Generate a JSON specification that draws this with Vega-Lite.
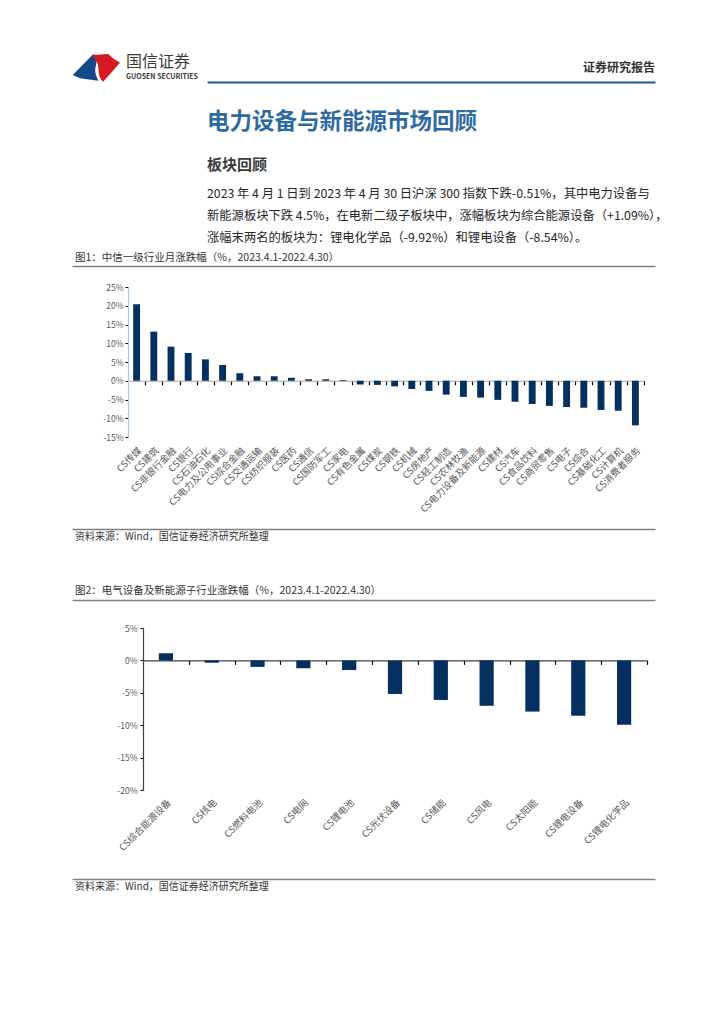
{
  "$schema": "https://vega.github.io/schema/vega-lite/v6.json",
  "background": "white",
  "padding": {"left": 72, "top": 53, "right": 0, "bottom": 0},
  "config": {
    "font": "Noto Sans CJK SC",
    "view": {"stroke": null},
    "axis": {"grid": false},
    "axisY": {"labelOverlap": false},
    "title": {"frame": "group", "anchor": "start"}
  },
  "datasets": {
    "industry": [
      {"name": "CS传媒", "value": 20.4},
      {"name": "CS建筑", "value": 13.1},
      {"name": "CS非银行金融", "value": 9.1},
      {"name": "CS银行", "value": 7.4},
      {"name": "CS石油石化", "value": 5.7},
      {"name": "CS电力及公用事业", "value": 4.2},
      {"name": "CS综合金融", "value": 2.0},
      {"name": "CS交通运输", "value": 1.2},
      {"name": "CS纺织服装", "value": 1.2},
      {"name": "CS医药", "value": 0.8},
      {"name": "CS通信", "value": 0.4},
      {"name": "CS国防军工", "value": 0.4},
      {"name": "CS家电", "value": 0.2},
      {"name": "CS有色金属", "value": -1.0},
      {"name": "CS煤炭", "value": -1.1},
      {"name": "CS钢铁", "value": -1.5},
      {"name": "CS机械", "value": -2.2},
      {"name": "CS房地产", "value": -2.7},
      {"name": "CS轻工制造", "value": -3.7},
      {"name": "CS农林牧渔", "value": -4.3},
      {"name": "CS电力设备及新能源", "value": -4.5},
      {"name": "CS建材", "value": -5.1},
      {"name": "CS汽车", "value": -5.6},
      {"name": "CS食品饮料", "value": -6.2},
      {"name": "CS商贸零售", "value": -6.7},
      {"name": "CS电子", "value": -7.0},
      {"name": "CS综合", "value": -7.2},
      {"name": "CS基础化工", "value": -7.8},
      {"name": "CS计算机", "value": -8.0},
      {"name": "CS消费者服务", "value": -11.9}
    ],
    "sub": [
      {"name": "CS综合能源设备", "value": 1.09},
      {"name": "CS核电", "value": -0.36},
      {"name": "CS燃料电池", "value": -1.0},
      {"name": "CS电网", "value": -1.2},
      {"name": "CS锂电池", "value": -1.5},
      {"name": "CS光伏设备", "value": -5.2},
      {"name": "CS储能", "value": -6.1},
      {"name": "CS风电", "value": -7.0},
      {"name": "CS太阳能", "value": -7.9},
      {"name": "CS锂电设备", "value": -8.54},
      {"name": "CS锂电化学品", "value": -9.92}
    ],
    "one": [{"v": 0.5}]
  },
  "vconcat": [
    {
      "hconcat": [
        {
          "width": 48,
          "height": 29,
          "title": {
            "text": "国信证券",
            "subtitle": "GUOSEN SECURITIES",
            "fontSize": 16,
            "fontWeight": "normal",
            "color": "#3a3a3a",
            "subtitleFontSize": 7,
            "subtitleFontWeight": "bold",
            "subtitleColor": "#3a3a3a",
            "subtitlePadding": 3,
            "dx": 54,
            "offset": -27
          },
          "data": {"name": "one"},
          "layer": [
            {
              "mark": {"type": "point", "filled": true, "opacity": 1, "strokeWidth": 0, "color": "#124a87", "size": 2304,
                "shape": "M -0.97 0.31 L -0.11 -0.56 Q 0.08 -0.35 0.0 -0.1 Q -0.1 0.2 0.1 0.55 L -0.67 0.45 Z"},
              "encoding": {}
            },
            {
              "mark": {"type": "point", "filled": true, "opacity": 1, "strokeWidth": 0, "color": "#d71920", "size": 2304,
                "shape": "M -0.18 -0.52 L 0.51 -0.56 L 0.72 -0.38 L 1 -0.2 L 0.3 0.59 Q 0.1 0.45 0.1 0.03 Q 0.12 -0.2 -0.18 -0.52 Z"},
              "encoding": {}
            }
          ]
        },
        {
          "width": 448,
          "height": 29,
          "title": {"text": "证券研究报告", "anchor": "end", "fontSize": 12, "fontWeight": "bold", "color": "#333333", "offset": -22},
          "data": {"name": "one"},
          "mark": {"type": "point", "opacity": 0, "size": 0},
          "encoding": {
            "x": {"field": "v", "type": "quantitative", "scale": {"domain": [0, 1]},
              "axis": {"orient": "bottom", "domain": true, "domainColor": "#1f5591", "domainWidth": 2, "ticks": false, "labels": false, "title": null}}
          }
        }
      ],
      "spacing": 87,
      "bounds": "flush"
    },
    {
      "title": {"text": "电力设备与新能源市场回顾", "fontSize": 22.5, "fontWeight": "bold", "color": "#2e6aa0", "dx": 135, "offset": 25},
      "bounds": "flush",
      "vconcat": [
        {
          "title": {
            "text": "板块回顾",
            "fontSize": 15,
            "fontWeight": "bold",
            "color": "#3a3a3a",
            "dx": 135,
            "offset": 8,
            "subtitle": [
              "2023 年 4 月 1 日到 2023 年 4 月 30 日沪深 300 指数下跌-0.51%，其中电力设备与",
              "新能源板块下跌 4.5%，在电新二级子板块中，涨幅板块为综合能源设备（+1.09%），",
              "涨幅末两名的板块为：锂电化学品（-9.92%）和锂电设备（-8.54%）。"
            ],
            "subtitleFontSize": 12.3,
            "subtitleLineHeight": 22,
            "subtitleColor": "#262626",
            "subtitlePadding": 15
          },
          "spacing": 0,
          "bounds": "flush",
          "vconcat": [
            {
              "width": 583,
              "height": 21,
              "title": {"text": "图1：中信一级行业月涨跌幅（%，2023.4.1-2022.4.30）", "fontSize": 10.5, "fontWeight": "normal", "color": "#333333", "dx": 3, "offset": 3},
              "data": {"name": "one"},
              "mark": {"type": "point", "opacity": 0, "size": 0},
              "encoding": {
                "x": {"field": "v", "type": "quantitative", "scale": {"domain": [0, 1]},
                  "axis": {"orient": "top", "domain": true, "domainColor": "#808080", "domainWidth": 1.3, "ticks": false, "labels": false, "title": null}}
              }
            },
            {
              "hconcat": [
                {
                  "width": 1,
                  "height": 150,
                  "data": {"name": "one"},
                  "mark": {"type": "point", "opacity": 0, "size": 0},
                  "encoding": {}
                },
                {
                  "width": 516,
                  "height": 150,
                  "data": {"name": "industry"},
                  "layer": [
                    {
                      "mark": {"type": "bar", "color": "#03305f"},
                      "encoding": {
                        "x": {"field": "name", "type": "nominal", "sort": null,
                          "scale": {"paddingInner": 0.6, "paddingOuter": 0.3},
                          "axis": {"orient": "bottom", "domain": false, "ticks": false, "labelAngle": -45, "labelFontSize": 9.5, "labelColor": "#595959", "labelPadding": 8, "labelLimit": 200, "title": null}},
                        "y": {"field": "value", "type": "quantitative",
                          "scale": {"domain": [-15, 25], "nice": false, "zero": false},
                          "axis": {"values": [-15, -10, -5, 0, 5, 10, 15, 20, 25], "labelExpr": "datum.value + '%'", "labelOverlap": false, "domainColor": "#a9cbe4", "domainWidth": 1.2, "tickColor": "#000000", "tickSize": 3, "labelPadding": 2, "labelFontSize": 8.5, "labelColor": "#595959", "title": null}}
                      }
                    },
                    {
                      "mark": {"type": "bar", "opacity": 0},
                      "encoding": {
                        "x": {"field": "name", "type": "nominal", "sort": null,
                          "axis": {"orient": "bottom", "offset": -56.25, "labels": false, "domain": true, "domainColor": "#a6a6a6", "domainWidth": 1.2, "ticks": true, "tickOffset": 8.6, "tickColor": "#000000", "tickSize": 4, "tickWidth": 1.2, "title": null}},
                        "y": {"field": "value", "type": "quantitative",
                          "axis": {"values": [-15, -10, -5, 0, 5, 10, 15, 20, 25], "labelExpr": "datum.value + '%'", "labelOverlap": false, "domainColor": "#a9cbe4", "domainWidth": 1.2, "tickColor": "#000000", "tickSize": 3, "labelPadding": 2, "labelFontSize": 8.5, "labelColor": "#595959", "title": null}}
                      }
                    }
                  ],
                  "resolve": {"axis": {"x": "independent"}}
                }
              ],
              "spacing": 55,
              "bounds": "flush"
            },
            {
              "width": 583,
              "height": 242,
              "title": {"text": "资料来源：Wind，国信证券经济研究所整理", "orient": "bottom", "fontSize": 10, "fontWeight": "normal", "color": "#333333", "dx": 3, "offset": 3},
              "data": {"name": "one"},
              "mark": {"type": "point", "opacity": 0, "size": 0},
              "encoding": {
                "x": {"field": "v", "type": "quantitative", "scale": {"domain": [0, 1]},
                  "axis": {"orient": "bottom", "domain": true, "domainColor": "#808080", "domainWidth": 1.3, "ticks": false, "labels": false, "title": null}}
              }
            },
            {
              "width": 583,
              "height": 99,
              "title": {"text": "图2：电气设备及新能源子行业涨跌幅（%，2023.4.1-2022.4.30）", "fontSize": 10.5, "fontWeight": "normal", "color": "#333333", "dx": 3, "offset": -67},
              "data": {"name": "one"},
              "mark": {"type": "point", "opacity": 0, "size": 0},
              "encoding": {
                "x": {"field": "v", "type": "quantitative", "scale": {"domain": [0, 1]},
                  "axis": {"orient": "bottom", "offset": -28, "domain": true, "domainColor": "#808080", "domainWidth": 1.3, "ticks": false, "labels": false, "title": null}}
              }
            },
            {
              "hconcat": [
                {
                  "width": 1,
                  "height": 162,
                  "data": {"name": "one"},
                  "mark": {"type": "point", "opacity": 0, "size": 0},
                  "encoding": {}
                },
                {
                  "width": 504,
                  "height": 162,
                  "data": {"name": "sub"},
                  "layer": [
                    {
                      "mark": {"type": "bar", "color": "#03305f"},
                      "encoding": {
                        "x": {"field": "name", "type": "nominal", "sort": null,
                          "scale": {"paddingInner": 0.69, "paddingOuter": 0.345},
                          "axis": {"orient": "bottom", "domain": false, "ticks": false, "labelAngle": -45, "labelFontSize": 9.5, "labelColor": "#595959", "labelPadding": 7, "labelLimit": 200, "title": null}},
                        "y": {"field": "value", "type": "quantitative",
                          "scale": {"domain": [-20, 5], "nice": false, "zero": false},
                          "axis": {"values": [-20, -15, -10, -5, 0, 5], "labelExpr": "datum.value + '%'", "labelOverlap": false, "domainColor": "#404040", "domainWidth": 1.2, "tickColor": "#000000", "tickSize": 3, "labelPadding": 3, "labelFontSize": 8.5, "labelColor": "#595959", "title": null}}
                      }
                    },
                    {
                      "mark": {"type": "bar", "opacity": 0},
                      "encoding": {
                        "x": {"field": "name", "type": "nominal", "sort": null,
                          "axis": {"orient": "bottom", "offset": -129.6, "labels": false, "domain": true, "domainColor": "#404040", "domainWidth": 1.2, "ticks": true, "tickOffset": 22.9, "tickColor": "#000000", "tickSize": 4, "tickWidth": 1.2, "title": null}},
                        "y": {"field": "value", "type": "quantitative",
                          "axis": {"values": [-20, -15, -10, -5, 0, 5], "labelExpr": "datum.value + '%'", "labelOverlap": false, "domainColor": "#404040", "domainWidth": 1.2, "tickColor": "#000000", "tickSize": 3, "labelPadding": 3, "labelFontSize": 8.5, "labelColor": "#595959", "title": null}}
                      }
                    }
                  ],
                  "resolve": {"axis": {"x": "independent"}}
                }
              ],
              "spacing": 70,
              "bounds": "flush"
            },
            {
              "width": 583,
              "height": 251,
              "title": {"text": "资料来源：Wind，国信证券经济研究所整理", "orient": "bottom", "fontSize": 10, "fontWeight": "normal", "color": "#333333", "dx": 3, "offset": 3},
              "data": {"name": "one"},
              "mark": {"type": "point", "opacity": 0, "size": 0},
              "encoding": {
                "x": {"field": "v", "type": "quantitative", "scale": {"domain": [0, 1]},
                  "axis": {"orient": "bottom", "domain": true, "domainColor": "#808080", "domainWidth": 1.3, "ticks": false, "labels": false, "title": null}}
              }
            }
          ]
        }
      ]
    }
  ],
  "spacing": 213,
  "bounds": "flush"
}
